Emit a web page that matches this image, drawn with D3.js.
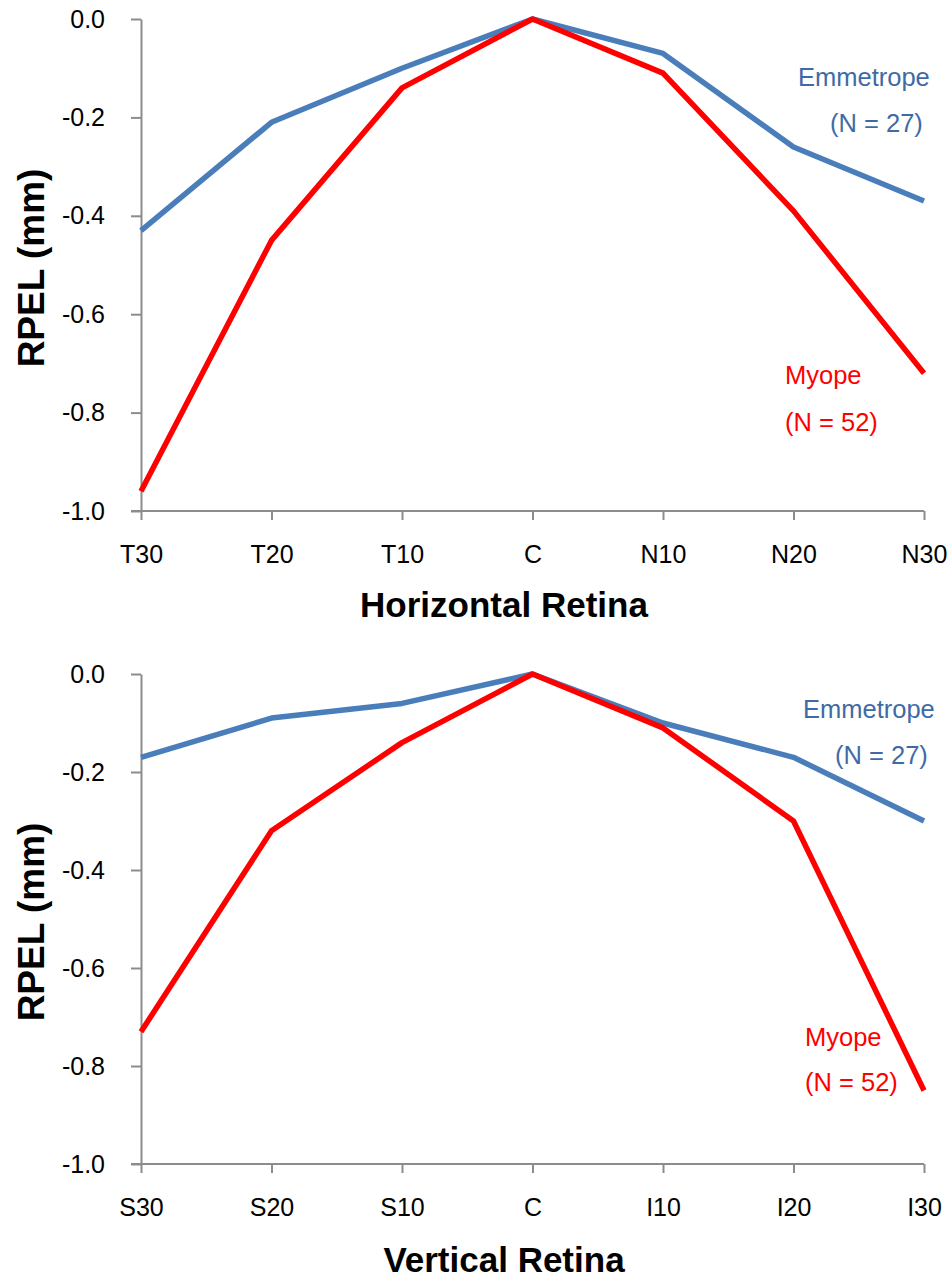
<!DOCTYPE html>
<html>
<head>
<meta charset="utf-8">
<script src="https://cdn.jsdelivr.net/npm/d3@7"></script>
<style>
  body { margin: 0; background: #fff; }
  svg { display: block; font-family: "Liberation Sans", Arial, sans-serif; }
  .axis path, .axis line { stroke: #8c8c8c; stroke-width: 2; }
  .axis text { font-size: 25px; fill: #000; }
  .title { font-size: 35px; font-weight: bold; fill: #000; }
</style>
</head>
<body>
<svg id="chart" width="951" height="1278"></svg>
<script>
// tick labels
const horizCats = ["T30", "T20", "T10", "C", "N10", "N20", "N30"];
const vertCats = ["S30", "S20", "S10", "C", "I10", "I20", "I30"];
const yTicks = [0, -0.2, -0.4, -0.6, -0.8, -1.0];

// RPEL values (mm)
const horizEmmetrope = [-0.43, -0.21, -0.10, 0, -0.07, -0.26, -0.37];
const horizMyope = [-0.96, -0.45, -0.14, 0, -0.11, -0.39, -0.72];
const vertEmmetrope = [-0.17, -0.09, -0.06, 0, -0.10, -0.17, -0.30];
const vertMyope = [-0.73, -0.32, -0.14, 0, -0.11, -0.30, -0.85];

const blue = "#4a7ebb", red = "#ff0000", blueText = "#3e6ba6";

const svg = d3.select("#chart");

function drawPanel(opts) {
    let x = d3.scalePoint().domain(opts.cats).range([141, 924]);
    let y = d3.scaleLinear().domain([-1, 0]).range([opts.bottom, opts.top]);
    let g = svg.append("g");

    // y axis
    let yAxis = g.append("g")
        .attr("class", "axis")
        .attr("transform", "translate(141,0)")
        .call(d3.axisLeft(y).tickValues(yTicks).tickSize(10).tickSizeOuter(0).tickPadding(26));
    yAxis.selectAll("text").text(d => d3.format(".1f")(d).replace("−", "-"));

    // x axis
    let xAxis = g.append("g")
        .attr("class", "axis")
        .attr("transform", `translate(0,${opts.bottom})`)
        .call(d3.axisBottom(x).tickSize(9).tickSizeOuter(0).tickPadding(25));
    xAxis.select(".domain").remove();
    xAxis.append("line")
        .attr("x1", 131).attr("x2", 924)
        .attr("y1", 0).attr("y2", 0);

    let line = d3.line()
        .x((d, i) => x(opts.cats[i]))
        .y(d => y(d));

    g.append("path")
        .datum(opts.emm)
        .attr("d", line)
        .attr("fill", "none")
        .attr("stroke", blue)
        .attr("stroke-width", 5.5)
        .attr("stroke-linejoin", "round");

    g.append("path")
        .datum(opts.myo)
        .attr("d", line)
        .attr("fill", "none")
        .attr("stroke", red)
        .attr("stroke-width", 5.5)
        .attr("stroke-linejoin", "round");

    // series labels
    opts.labels.forEach(l => {
        g.append("text")
            .attr("x", l.x).attr("y", l.y)
            .attr("dy", "0.35em")
            .attr("font-size", 25.5)
            .attr("fill", l.color)
            .text(l.text);
    });

    // axis titles
    g.append("text")
        .attr("class", "title")
        .attr("font-size", 37)
        .style("font-size", "37px")
        .attr("transform", `translate(44,${(opts.top + opts.bottom) / 2 + 3}) rotate(-90)`)
        .attr("text-anchor", "middle")
        .text("RPEL (mm)");

    g.append("text")
        .attr("class", "title")
        .attr("x", 504)
        .attr("y", opts.bottom + opts.titleOffset)
        .attr("text-anchor", "middle")
        .text(opts.title);
}

drawPanel({
    cats: horizCats, emm: horizEmmetrope, myo: horizMyope,
    top: 19, bottom: 511, titleOffset: 106,
    title: "Horizontal Retina",
    labels: [
        {text: "Emmetrope", x: 798, y: 77, color: blueText},
        {text: "(N = 27)", x: 830, y: 123, color: blueText},
        {text: "Myope", x: 785, y: 375, color: red},
        {text: "(N = 52)", x: 785, y: 422, color: red}
    ]
});

drawPanel({
    cats: vertCats, emm: vertEmmetrope, myo: vertMyope,
    top: 674, bottom: 1164, titleOffset: 108,
    title: "Vertical Retina",
    labels: [
        {text: "Emmetrope", x: 803, y: 709, color: blueText},
        {text: "(N = 27)", x: 835, y: 755, color: blueText},
        {text: "Myope", x: 805, y: 1037, color: red},
        {text: "(N = 52)", x: 805, y: 1082, color: red}
    ]
});
</script>
</body>
</html>
